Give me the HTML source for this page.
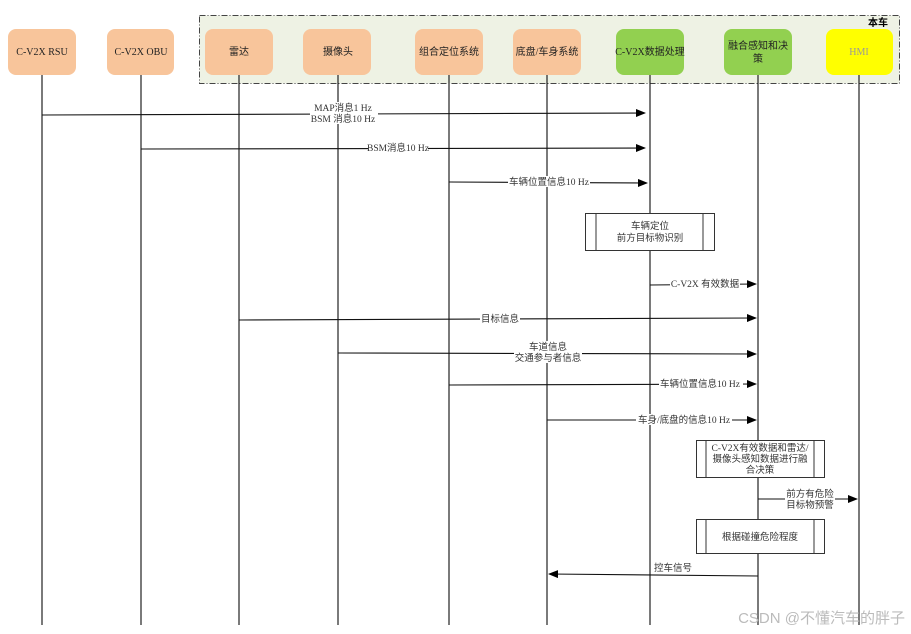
<!DOCTYPE html>
<html><head><meta charset="utf-8"><style>
html,body{margin:0;padding:0;background:#fff;}
svg{display:block;font-family:"Liberation Serif","Noto Sans CJK SC",serif;}
</style></head><body>
<svg width="911" height="634" viewBox="0 0 911 634" xmlns="http://www.w3.org/2000/svg">
<defs><marker id="a" markerWidth="10" markerHeight="8" refX="9" refY="4" orient="auto" markerUnits="userSpaceOnUse"><path d="M0,0 L10,4 L0,8 z" fill="#000"/></marker></defs>
<rect x="199.5" y="15.5" width="700" height="68" fill="#eef2e4" stroke="#444" stroke-dasharray="6,2,1,2"/>
<text x="888" y="26" font-size="10" font-weight="bold" text-anchor="end" font-family="Noto Sans CJK SC,sans-serif">本车</text>
<g stroke="#222" stroke-width="1.2">
<line x1="42" y1="75" x2="42" y2="625"/><line x1="141" y1="75" x2="141" y2="625"/>
<line x1="239" y1="75" x2="239" y2="625"/><line x1="338" y1="75" x2="338" y2="625"/>
<line x1="449" y1="75" x2="449" y2="625"/><line x1="547" y1="75" x2="547" y2="625"/>
<line x1="650" y1="75" x2="650" y2="625"/><line x1="758" y1="75" x2="758" y2="625"/>
<line x1="859" y1="75" x2="859" y2="625"/>
</g>
<g font-size="10" text-anchor="middle" fill="#222">
<rect x="8" y="29" width="68" height="46" rx="8" fill="#f8c59b"/><text x="42" y="55">C-V2X RSU</text>
<rect x="107" y="29" width="67" height="46" rx="8" fill="#f8c59b"/><text x="141" y="55">C-V2X OBU</text>
<rect x="205" y="29" width="68" height="46" rx="8" fill="#f8c59b"/><text x="239" y="55">雷达</text>
<rect x="303" y="29" width="68" height="46" rx="8" fill="#f8c59b"/><text x="338" y="55">摄像头</text>
<rect x="415" y="29" width="68" height="46" rx="8" fill="#f8c59b"/><text x="449" y="55">组合定位系统</text>
<rect x="513" y="29" width="68" height="46" rx="8" fill="#f8c59b"/><text x="547" y="55">底盘/车身系统</text>
<rect x="616" y="29" width="68" height="46" rx="8" fill="#92d050"/><text x="650" y="55">C-V2X数据处理</text>
<rect x="724" y="29" width="68" height="46" rx="8" fill="#92d050"/><text x="758" y="49">融合感知和决</text><text x="758" y="62">策</text>
<rect x="826" y="29" width="67" height="46" rx="8" fill="#ffff00"/><text x="859" y="55" fill="#999">HMI</text>
</g>
<g stroke="#111" stroke-width="1.1" fill="none" marker-end="url(#a)">
<line x1="42" y1="115" x2="645" y2="113"/>
<line x1="141" y1="149" x2="645" y2="148"/>
<line x1="449" y1="182" x2="647" y2="183"/>
<line x1="650" y1="285" x2="756" y2="284"/>
<line x1="239" y1="320" x2="756" y2="318"/>
<line x1="338" y1="353" x2="756" y2="354"/>
<line x1="449" y1="385" x2="756" y2="384"/>
<line x1="547" y1="420" x2="756" y2="420"/>
<line x1="758" y1="499" x2="857" y2="499"/>
<line x1="758" y1="576" x2="549" y2="574"/>
</g>
<g font-size="9.5" text-anchor="middle" fill="#333">
<rect x="310" y="102" width="68" height="22" fill="#fff"/>
<text x="343" y="111">MAP消息1 Hz</text><text x="343" y="122">BSM 消息10 Hz</text>
<rect x="368" y="142" width="60" height="11" fill="#fff"/><text x="398" y="151">BSM消息10 Hz</text>
<rect x="508" y="176" width="82" height="11" fill="#fff"/><text x="549" y="185">车辆位置信息10 Hz</text>
<rect x="670" y="278" width="70" height="11" fill="#fff"/><text x="705" y="287">C-V2X 有效数据</text>
<rect x="480" y="313" width="40" height="11" fill="#fff"/><text x="500" y="322">目标信息</text>
<rect x="514" y="341" width="68" height="22" fill="#fff"/>
<text x="548" y="350">车道信息</text><text x="548" y="361">交通参与者信息</text>
<rect x="659" y="378" width="84" height="11" fill="#fff"/><text x="700" y="387">车辆位置信息10 Hz</text>
<rect x="636" y="414" width="96" height="11" fill="#fff"/><text x="684" y="423">车身/底盘的信息10 Hz</text>
<rect x="785" y="488" width="50" height="22" fill="#fff"/>
<text x="810" y="497">前方有危险</text><text x="810" y="508">目标物预警</text>
<text x="673" y="571">控车信号</text>
</g>
<g stroke="#333" fill="#fff">
<rect x="585.5" y="213.5" width="129" height="37"/><line x1="596" y1="213" x2="596" y2="250"/><line x1="703" y1="213" x2="703" y2="250"/>
<rect x="696.5" y="440.5" width="128" height="37"/><line x1="706" y1="440" x2="706" y2="477"/><line x1="814" y1="440" x2="814" y2="477"/>
<rect x="696.5" y="519.5" width="128" height="34"/><line x1="706" y1="519" x2="706" y2="553"/><line x1="814" y1="519" x2="814" y2="553"/>
</g>
<g font-size="9.5" text-anchor="middle" fill="#333">
<text x="650" y="229">车辆定位</text><text x="650" y="241">前方目标物识别</text>
<text x="760" y="451">C-V2X有效数据和雷达/</text><text x="760" y="462">摄像头感知数据进行融</text><text x="760" y="473">合决策</text>
<text x="760" y="540">根据碰撞危险程度</text>
</g>
<text x="905" y="623" font-size="15" text-anchor="end" fill="#bbb" font-family="Liberation Sans,Noto Sans CJK SC,sans-serif">CSDN @不懂汽车的胖子</text>
</svg>
</body></html>
